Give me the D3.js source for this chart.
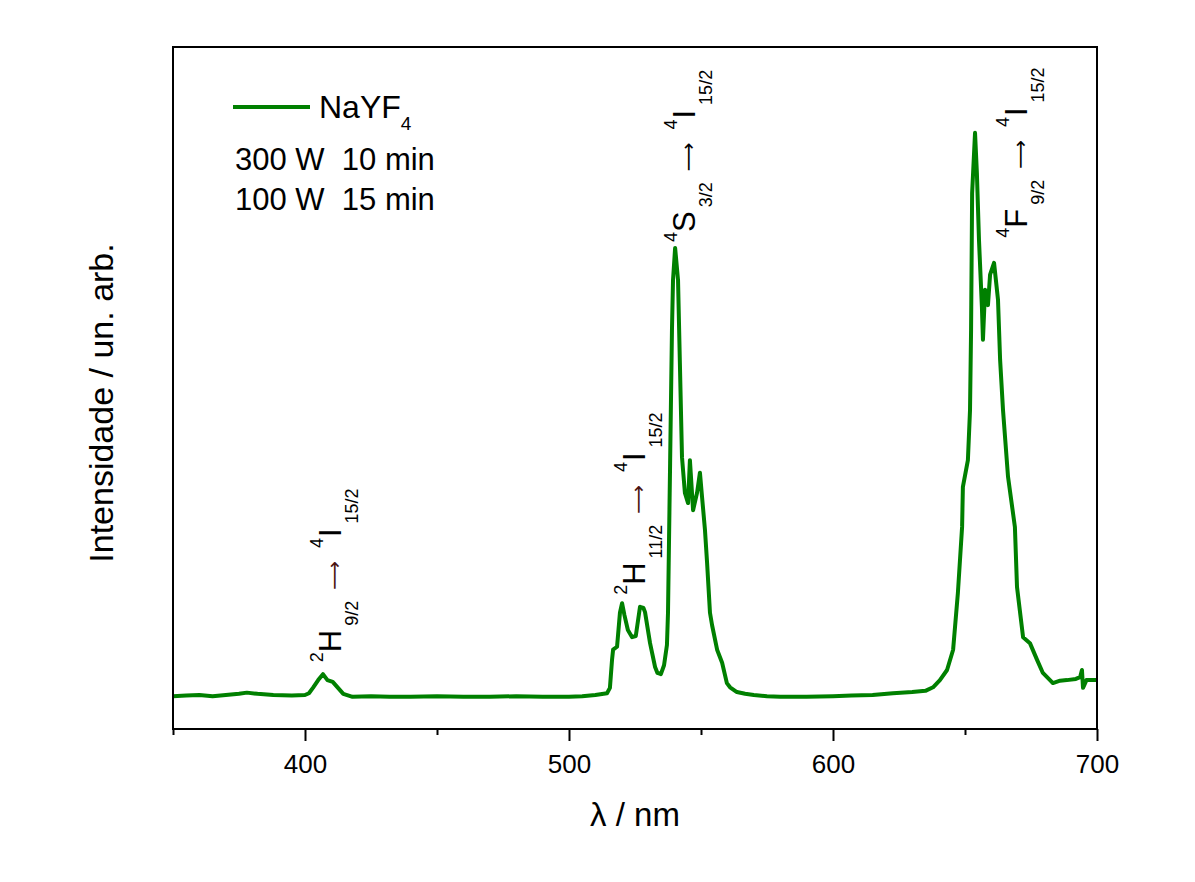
<!DOCTYPE html>
<html>
<head>
<meta charset="utf-8">
<script src="https://cdn.jsdelivr.net/npm/d3@7"></script>
<style>
  body { margin: 0; background: #fff; }
  text { font-family: "Liberation Sans", Arial, sans-serif; fill: #000; }
</style>
</head>
<body>
<div id="chart"></div>
<script>
// wavelength (nm) and normalised intensity
var wavelength = [350, 355, 360, 365, 370, 375, 378, 382, 388, 395, 400, 401.5, 403, 405, 406.8, 408.5, 410.5, 412.5, 414.5, 418,
  425, 432, 440, 450, 460, 470, 480, 490, 500, 505, 510, 514.4, 515.5, 516.3, 516.7, 518.2, 519.3, 520.1, 521, 522.3,
  523.9, 525.3, 526.9, 528.2, 528.8, 530.7, 532.6, 533.5, 534.8, 536.0, 537.1, 537.5, 538.3, 539.0, 539.4, 540.2, 541.3, 542.0, 542.8, 543.9,
  545.1, 545.8, 547.0, 548.5, 549.6, 550.4, 551.5, 552.3, 553.4, 554.2, 556.1, 558.0, 559.8, 561.0, 563.6, 566.7, 570, 575, 580, 590,
  600, 607, 615, 622.7, 630, 635, 637.9, 640.5, 643.2, 645.5, 647.3, 648.9, 649.2, 651.1, 651.9, 652.3, 652.7, 653.8, 654.5, 655.3,
  656.4, 656.8, 657.6, 658.7, 659.5, 661.0, 662.5, 663.3, 664.4, 666.3, 668.9, 669.7, 672.0, 674.6, 677.3, 679.5, 682.2, 683.3, 686, 688.6,
  692, 693.6, 694.3, 694.7, 696, 700];
var intensity = [0.055, 0.056, 0.057, 0.055, 0.057, 0.059, 0.061, 0.059, 0.057, 0.056, 0.057, 0.060, 0.069, 0.082, 0.092, 0.082, 0.079, 0.069, 0.059, 0.054,
  0.055, 0.054, 0.054, 0.055, 0.054, 0.054, 0.055, 0.054, 0.054, 0.055, 0.057, 0.060, 0.069, 0.116, 0.133, 0.138, 0.195, 0.211, 0.191, 0.166,
  0.154, 0.156, 0.205, 0.203, 0.196, 0.144, 0.104, 0.094, 0.092, 0.107, 0.141, 0.195, 0.446, 0.669, 0.753, 0.807, 0.753, 0.614, 0.456, 0.396,
  0.379, 0.451, 0.367, 0.396, 0.430, 0.389, 0.334, 0.279, 0.195, 0.174, 0.133, 0.111, 0.077, 0.070, 0.062, 0.059, 0.057, 0.055, 0.054, 0.054,
  0.055, 0.056, 0.057, 0.060, 0.062, 0.064, 0.070, 0.082, 0.099, 0.133, 0.228, 0.339, 0.406, 0.451, 0.535, 0.669, 0.899, 1.000, 0.933, 0.820,
  0.708, 0.653, 0.737, 0.711, 0.762, 0.782, 0.720, 0.619, 0.535, 0.423, 0.339, 0.238, 0.154, 0.144, 0.116, 0.094, 0.082, 0.077, 0.081, 0.082,
  0.084, 0.087, 0.099, 0.069, 0.082, 0.082];

var xTicks = [400, 500, 600, 700];
var xMinorTicks = [350, 450, 550, 650];

var legendLabel = "NaYF";
var legendSub = "4";
var conditions = ["300 W  10 min", "100 W  15 min"];

// transitions: [sup, main, sub, sup, main, sub], anchored at (nm, intensity)
var transitions = [
  {parts: ["2", "H", "9/2", "4", "I", "15/2"], nm: 413.6, at: 0.112, arrow: "#4a1212"},
  {parts: ["2", "H", "11/2", "4", "I", "15/2"], nm: 528.8, at: 0.225, arrow: "#4a1212"},
  {parts: ["4", "S", "3/2", "4", "I", "15/2"], nm: 547.7, at: 0.817, arrow: "#000"},
  {parts: ["4", "F", "9/2", "4", "I", "15/2"], nm: 673.5, at: 0.824, arrow: "#000"}
];

var data = wavelength.map(function(w, i) { return {x: w, y: intensity[i]}; });

var margin = {top: 47, right: 98, bottom: 153, left: 173},
    width = 1195 - margin.left - margin.right,
    height = 882 - margin.top - margin.bottom;

var svg = d3.select("#chart")
  .append("svg")
    .attr("width", 1195)
    .attr("height", 882)
  .append("g")
    .attr("transform", "translate(" + margin.left + "," + margin.top + ")");

var x = d3.scaleLinear().domain([350, 700]).range([0, width]);
var y = d3.scaleLinear().domain([0, 1.144]).range([height, 0]);

// minor ticks
svg.append("g")
  .attr("transform", "translate(0," + height + ")")
  .call(d3.axisBottom(x).tickValues(xMinorTicks).tickSize(6).tickFormat(""))
  .call(function(g) { g.select(".domain").remove(); })
  .selectAll("line").attr("stroke-width", 2);

// major ticks
var xa = svg.append("g")
  .attr("transform", "translate(0," + height + ")")
  .call(d3.axisBottom(x).tickValues(xTicks).tickSize(12).tickPadding(14).tickFormat(d3.format("d")));
xa.select(".domain").remove();
xa.selectAll("line").attr("stroke-width", 2);
xa.selectAll("text").style("font-size", "26px").style("font-family", "'Liberation Sans', Arial, sans-serif");

// spectrum
var line = d3.line()
  .x(function(d) { return x(d.x); })
  .y(function(d) { return y(d.y); });

svg.append("path")
  .datum(data)
  .attr("fill", "none")
  .attr("stroke", "#008000")
  .attr("stroke-width", 4)
  .attr("stroke-linejoin", "round")
  .attr("d", line);

// frame
svg.append("rect")
  .attr("width", width)
  .attr("height", height)
  .attr("fill", "none")
  .attr("stroke", "#000")
  .attr("stroke-width", 2);

// axis titles
svg.append("text")
  .attr("x", width / 2)
  .attr("y", height + 97)
  .attr("text-anchor", "middle")
  .style("font-size", "33px")
  .text("λ / nm");

svg.append("text")
  .attr("transform", "translate(" + (-60) + "," + (height / 2 + 15) + ") rotate(-90)")
  .attr("text-anchor", "middle")
  .style("font-size", "34px")
  .text("Intensidade / un. arb.");

// legend
svg.append("line")
  .attr("x1", 60).attr("x2", 137)
  .attr("y1", 60).attr("y2", 60)
  .attr("stroke", "#008000")
  .attr("stroke-width", 4);

var lt = svg.append("text").attr("x", 146).attr("y", 71).style("font-size", "32px");
lt.append("tspan").text(legendLabel);
lt.append("tspan").attr("dy", 12).style("font-size", "19px").text(legendSub);

conditions.forEach(function(c, i) {
  svg.append("text")
    .attr("x", 62)
    .attr("y", 123 + i * 40)
    .style("font-size", "31px")
    .style("white-space", "pre")
    .text(c);
});

// transition labels
transitions.forEach(function(t) {
  var p = t.parts;
  var g = svg.append("text")
    .attr("transform", "translate(" + x(t.nm) + "," + y(t.at) + ") rotate(-90)")
    .style("font-size", "31px");
  g.append("tspan").attr("dy", -18).style("font-size", "18px").text(p[0]);
  g.append("tspan").attr("dy", 18).text(p[1]);
  g.append("tspan").attr("dy", 17).attr("dx", 4).style("font-size", "18px").text(p[2]);
  g.append("tspan").attr("dy", -17).attr("dx", 11)
    .style("fill", t.arrow).style("font-family", "'DejaVu Sans', sans-serif").style("font-size", "20px")
    .text("⟶");
  g.append("tspan").attr("dy", -18).attr("dx", 13).style("font-size", "18px").text(p[3]);
  g.append("tspan").attr("dy", 18).attr("dx", 1).text(p[4]);
  g.append("tspan").attr("dy", 17).attr("dx", 5).style("font-size", "18px").text(p[5]);
});
</script>
</body>
</html>
